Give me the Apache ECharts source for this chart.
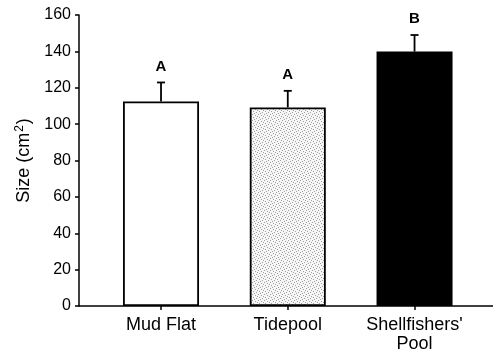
<!DOCTYPE html>
<html>
<head>
<meta charset="utf-8">
<script src="https://cdn.jsdelivr.net/npm/echarts@6/dist/echarts.min.js"></script>
<style>
  html, body { margin: 0; padding: 0; background: #fff; }
  #chart { width: 493px; height: 354px; }
</style>
</head>
<body>
<div id="chart"></div>
<script>
const categories = ['Mud Flat', 'Tidepool', "Shellfishers'\nPool"];
const means = [112.4, 109.2, 139.9];
const errors = [10.5, 9.1, 9.1];
const letters = ['A', 'A', 'B'];

// stippled fill for the tidepool bar
function stipple() {
    let c = document.createElement('canvas');
    c.width = 6; c.height = 6;
    let ctx = c.getContext('2d');
    ctx.fillStyle = '#f6f6f6';
    ctx.fillRect(0, 0, 6, 6);
    ctx.fillStyle = '#a0a0a0';
    [[0,0],[3,1],[1,3],[4,4],[5,2],[2,5]].forEach((p)=>{
        ctx.fillRect(p[0], p[1], 1, 1);
    });
    return c;
}
const fills = ['#ffffff', {image: stipple(), repeat: 'repeat'}, '#000000'];

const font = 'Liberation Sans';
let myChart = echarts.init(document.getElementById('chart'));
let option = {
    animation: false,
    grid: { left: 79, right: 0, top: 15, bottom: 47 },
    xAxis: {
        type: 'value',
        min: -0.647,
        max: 2.619,
        splitLine: { show: false },
        axisLine: { onZero: false, lineStyle: { color: '#000', width: 1.5 } },
        axisTick: { show: true, customValues: [0, 1, 2], length: 4, lineStyle: { color: '#000', width: 1.5 } },
        axisLabel: {
            customValues: [0, 1, 2],
            formatter: (v)=>categories[Math.round(v)],
            color: '#000', fontFamily: font, fontSize: 18, margin: 10, lineHeight: 19
        }
    },
    yAxis: {
        type: 'value',
        min: 0, max: 160, interval: 20,
        name: '{a|Size (cm}{s|2}{a|)}',
        nameLocation: 'middle',
        nameGap: 45,
        nameTextStyle: {
            rich: {
                a: { fontFamily: font, fontSize: 18, color: '#000' },
                s: { fontFamily: font, fontSize: 12, color: '#000', verticalAlign: 'top', padding: [0, 1, 8, 1] }
            }
        },
        splitLine: { show: false },
        axisLine: { show: true, onZero: false, lineStyle: { color: '#000', width: 1.5 } },
        axisTick: { show: true, length: 4, lineStyle: { color: '#000', width: 1.5 } },
        axisLabel: { color: '#000', fontFamily: font, fontSize: 16, margin: 8 }
    },
    series: [
        {
            type: 'bar',
            barWidth: 76,
            data: means.map((v,i)=>({
                value: [i, v],
                itemStyle: { color: fills[i], borderColor: '#000', borderWidth: 1.8 }
            }))
        },
        {
            type: 'custom',
            data: means.map((v,i)=>[i, v, errors[i]]),
            renderItem: function (params, api) {
                let x = api.value(0);
                let top = api.coord([x, api.value(1)]);
                let hi = api.coord([x, api.value(1) + api.value(2)]);
                return {
                    type: 'group',
                    children: [
                        { type: 'line', shape: { x1: top[0], y1: top[1], x2: hi[0], y2: hi[1] }, style: { stroke: '#000', lineWidth: 1.8 } },
                        { type: 'line', shape: { x1: hi[0] - 4, y1: hi[1], x2: hi[0] + 4, y2: hi[1] }, style: { stroke: '#000', lineWidth: 1.8 } },
                        { type: 'text', x: hi[0], y: hi[1] - 16, style: {
                            text: letters[params.dataIndex], fill: '#000',
                            font: 'bold 15px ' + font, align: 'center', verticalAlign: 'middle'
                        } }
                    ]
                };
            },
            z: 3
        }
    ]
};
myChart.setOption(option);
</script>
</body>
</html>
